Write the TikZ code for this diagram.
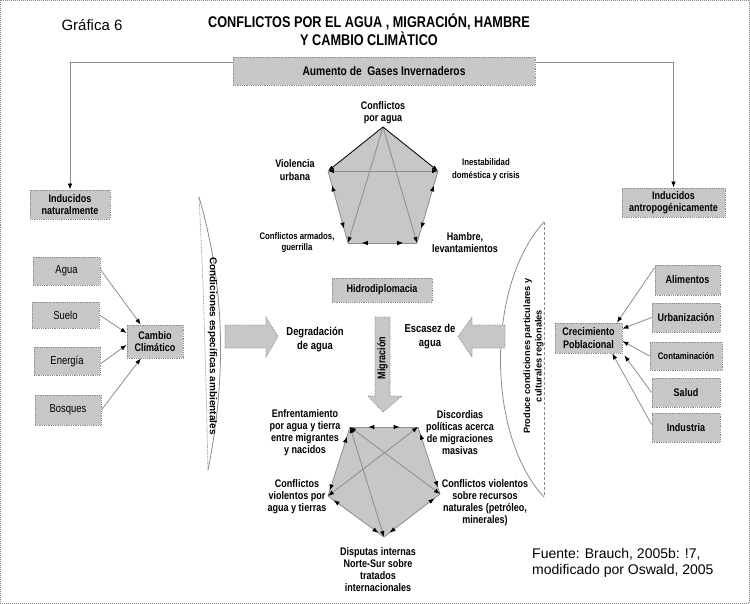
\documentclass[tikz,border=0pt]{standalone}
\usepackage{fontspec}
\setmainfont{Liberation Sans}
\newfontfamily\nf[FakeStretch=0.82]{Liberation Sans}
\usetikzlibrary{arrows.meta,decorations.markings,calc}
\definecolor{hatch}{gray}{0.78}
\definecolor{edgec}{gray}{0.55}
\tikzset{
  box/.style={draw=edgec, densely dotted, line width=0.8pt, fill=hatch, inner sep=1pt, align=center,
    font=\nf\bfseries\fontsize{11}{12.5}\selectfont},
  boxr/.style={box, font=\nf\fontsize{11.5}{13}\selectfont},
  lbl/.style={align=center, inner sep=0pt, font=\nf\bfseries\fontsize{11}{12}\selectfont},
  tipL/.tip={Latex[length=6pt,width=4.5pt,color=black]},
  conn/.style={draw=edgec, line width=0.8pt, -tipL},
  blk/.style={draw=black, line width=0.8pt, -tipL},
  eline/.style={draw=edgec, line width=0.8pt},
  pe/.style 2 args={eline, postaction={decorate}, decoration={markings,
     mark=at position #1 with {\arrowreversed{Latex[length=6pt,width=4.5pt,color=black]}},
     mark=at position #2 with {\arrow{Latex[length=6pt,width=4.5pt,color=black]}}}},
  bigarrow/.style={draw=edgec, densely dotted, line width=0.8pt, fill=hatch},
}
\begin{document}
\begin{tikzpicture}[x=1pt,y=-1pt]
\useasboundingbox (0,0) rectangle (750,604);
\draw[edgec, densely dotted, line width=1pt] (0.5,0.5) rectangle (749.5,603.5);

% titles
\node[font=\fontsize{15}{17}\selectfont] (grafica) at (92,25) {Gráfica 6};
\node[align=center, font=\nf\bfseries\fontsize{15.5}{18}\selectfont] (title) at (369,30)
  {CONFLICTOS POR EL AGUA , MIGRACIÓN, HAMBRE\\Y CAMBIO CLIMÀTICO};

% top box and branches
\node[box, minimum width=302, minimum height=28, font=\nf\bfseries\fontsize{12.5}{14}\selectfont] (gases) at (384,71) {Aumento de\ \ Gases Invernaderos};
\node[box, minimum width=80, minimum height=29] (natural) at (70,204.5) {Inducidos\\naturalmente};
\node[box, minimum width=103, minimum height=29] (antro) at (673.5,202.5) {Inducidos\\antropogénicamente};
\draw[conn] ($(gases.north west)+(0,6)$) -| (natural.north);
\draw[conn] ($(gases.north east)+(0,6)$) -| (antro.north);

% left cluster
\node[boxr, minimum width=67, minimum height=28] (agua) at (66.5,271) {Agua};
\node[boxr, minimum width=67, minimum height=26] (suelo) at (65.5,315) {Suelo};
\node[boxr, minimum width=66, minimum height=28] (energia) at (67,361) {Energía};
\node[boxr, minimum width=66, minimum height=30] (bosques) at (68,410) {Bosques};
\node[box, minimum width=56, minimum height=33] (cambio) at (155,341.5) {Cambio\\Climático};
\draw[conn] ($(agua.north east)!0.45!(agua.south east)$) -- ($(cambio.north west)!0.25!(cambio.north east)$);
\draw[conn] ($(suelo.north east)!0.5!(suelo.south east)$) -- ($(cambio.north west)!0.25!(cambio.south west)$);
\draw[conn] ($(energia.north east)!0.6!(energia.south east)$) -- ($(cambio.north west)!0.6!(cambio.south west)$);
\draw[conn] (bosques.east) -- ($(cambio.south west)!0.25!(cambio.south east)$);

% right cluster
\node[box, minimum width=67, minimum height=30] (crec) at (588.5,338) {Crecimiento\\Poblacional};
\node[box, minimum width=65, minimum height=30] (alim) at (687.5,280) {Alimentos};
\node[box, minimum width=68, minimum height=29] (urb) at (686,317.5) {Urbanización};
\node[box, minimum width=72, minimum height=28, font=\nf\bfseries\fontsize{9.5}{11}\selectfont] (cont) at (686,356) {Contaminación};
\node[box, minimum width=68, minimum height=29] (salud) at (686,392.5) {Salud};
\node[box, minimum width=68, minimum height=29] (indus) at (686,427.5) {Industria};
\draw[conn] ($(alim.north west)!0.1!(alim.south west)$) -- ($(crec.north west)!0.92!(crec.north east)$);
\draw[conn] (urb.west) -- ($(crec.north east)!0.2!(crec.south east)$);
\draw[conn] (cont.west) -- ($(crec.north east)!0.6!(crec.south east)$);
\draw[conn] (salud.west) -- ($(crec.south east)+(2,2)$);
\draw[conn] ($(indus.north west)!0.4!(indus.south west)$) -- ($(crec.south west)!0.85!(crec.south east)$);

% lenses
\draw[eline, densely dotted] (199,197) .. controls (204,290) and (206,380) .. (208,470);
\draw[eline] (199,197) .. controls (226,290) and (226,380) .. (208,470);
\node[rotate=-90, font=\bfseries\fontsize{10}{12}\selectfont] (condic) at (212.5,346) {Condiciones específicas ambientales};
\draw[eline, densely dashed] (544,222) -- (544,497);
\draw[eline] (544,222) .. controls (486,285) and (486,435) .. (544,497);
\node[rotate=90, align=center, font=\bfseries\fontsize{9.2}{11.5}\selectfont] (produce) at (533.5,356) {Produce condiciones particulares y\\culturales regionales};

% upper pentagon
\coordinate (T) at (383,127);
\coordinate (L) at (328,171);
\coordinate (R) at (438,171);
\coordinate (BL) at (348,243);
\coordinate (BR) at (417,243);
\fill[hatch] (T) -- (R) -- (BR) -- (BL) -- (L) -- cycle;
\draw[eline, -tipL] (T) -- (BL);
\draw[eline, -tipL] (T) -- (BR);
\draw[eline, tipL-tipL] (L) -- (R);
\draw[pe={0.2}{0.8}] (L) -- (BL);
\draw[pe={0.2}{0.8}] (R) -- (BR);
\draw[pe={0.2}{0.8}] (BL) -- (BR);
\draw[blk] (T) -- (L);
\draw[blk] (T) -- (R);
\node[lbl] (cpa) at (383,113) {Conflictos\\por agua};
\node[lbl, font=\nf\bfseries\fontsize{11}{13}\selectfont] (viol) at (295,170.5) {Violencia\\urbana};
\node[lbl, font=\nf\bfseries\fontsize{9.5}{13}\selectfont] (inest) at (486,169.5) {Inestabilidad\\doméstica y crisis};
\node[lbl, font=\nf\bfseries\fontsize{9.5}{11.5}\selectfont] (carm) at (297,242.5) {Conflictos armados,\\guerrilla};
\node[lbl, font=\nf\bfseries\fontsize{11}{12.5}\selectfont] (hamb) at (465,242.5) {Hambre,\\levantamientos};

% middle
\node[box, minimum width=100, minimum height=24] (hidro) at (382,290) {Hidrodiplomacia};
\draw[bigarrow] (225,325) -- (266,325) -- (266,317) -- (278,336.5) -- (266,357) -- (266,348) -- (225,348) -- cycle;
\draw[bigarrow] (505,325) -- (472,325) -- (472,317) -- (458,336.5) -- (472,357) -- (472,348) -- (505,348) -- cycle;
\draw[bigarrow] (375,317) -- (390,317) -- (390,396) -- (402,396) -- (383,412) -- (368,396) -- (375,396) -- cycle;
\node[rotate=90, font=\nf\bfseries\fontsize{11}{12}\selectfont] (migr) at (382.5,358) {Migración};
\node[lbl, font=\nf\bfseries\fontsize{11.5}{14}\selectfont] (degr) at (315,340) {Degradación\\de agua};
\node[lbl, font=\nf\bfseries\fontsize{11.5}{14}\selectfont] (esca) at (430,337) {Escasez de\\agua};

% lower pentagon
\coordinate (TL) at (350,427);
\coordinate (TR) at (418,427);
\coordinate (RR) at (440,494);
\coordinate (BB) at (384,537);
\coordinate (LL) at (328,496);
\fill[hatch] (TL) -- (TR) -- (RR) -- (BB) -- (LL) -- cycle;
\draw[pe={0.27}{0.73}] (TL) -- (TR);
\draw[pe={0.14}{0.92}] (TL) -- (LL);
\draw[pe={0.1}{0.9}] (LL) -- (BB);
\draw[pe={0.1}{0.9}] (BB) -- (RR);
\draw[pe={0.1}{0.9}] (RR) -- (TR);
\draw[eline, tipL-tipL] (TL) -- (RR);
\draw[eline, tipL-tipL] (TR) -- (LL);
\draw[eline, tipL-tipL] (TL) -- (BB);
\node[lbl] (enfr) at (305,433) {Enfrentamiento\\por agua y tierra\\entre migrantes\\y nacidos};
\node[lbl] (disc) at (460,433) {Discordias\\políticas acerca\\de migraciones\\masivas};
\node[lbl] (cvat) at (297,497) {Conflictos\\violentos por\\agua y tierras};
\node[lbl] (cvsr) at (485,503) {Conflictos violentos\\sobre recursos\\naturales (petróleo,\\minerales)};
\node[lbl] (disp) at (378,570) {Disputas internas\\Norte-Sur sobre\\tratados\\internacionales};

% source
\node[anchor=west, align=left, inner sep=0pt, font=\fontsize{14}{16}\selectfont] (fuente) at (532,563)
  {Fuente: Brauch, 2005b: !7,\\modificado por Oswald, 2005};
\end{tikzpicture}
\end{document}
